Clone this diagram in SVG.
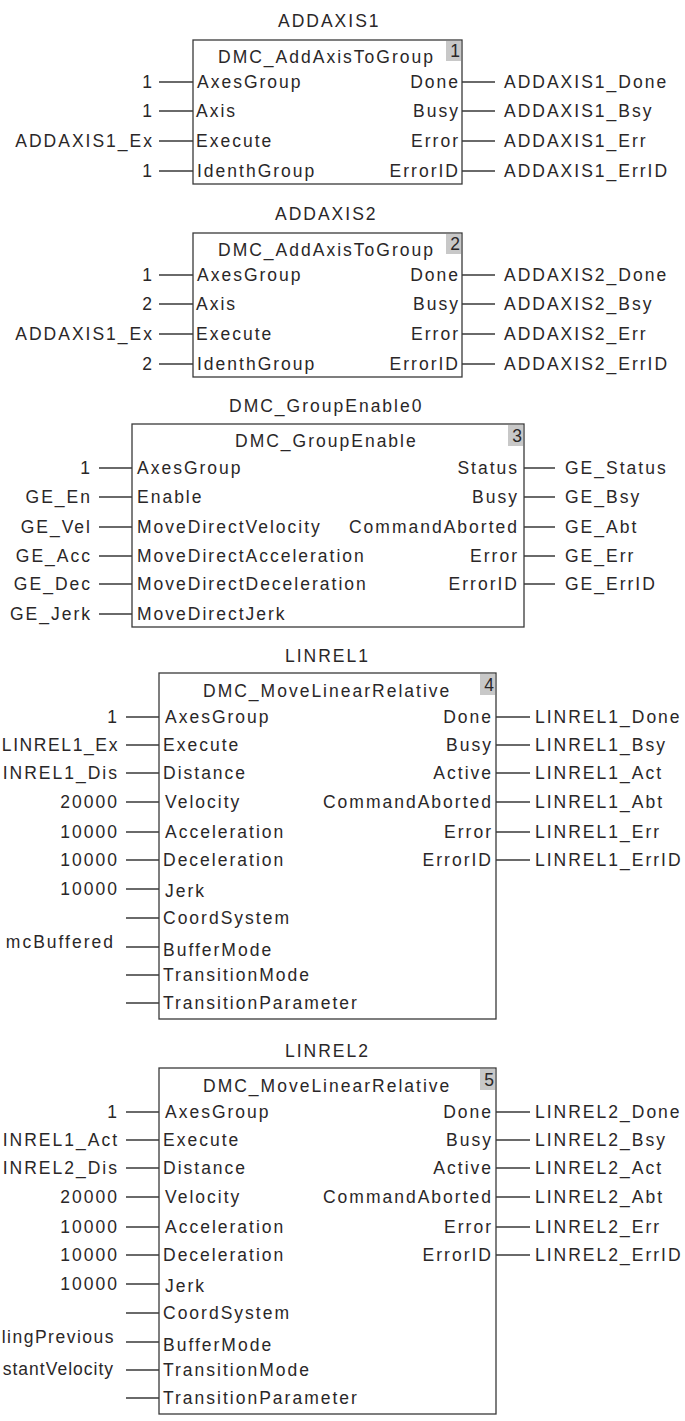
<svg xmlns="http://www.w3.org/2000/svg" width="685" height="1421" viewBox="0 0 685 1421">
<style>
text{font-family:"Liberation Sans",Arial,sans-serif;font-size:17.5px;fill:#2a2728;letter-spacing:2px}
.e{text-anchor:end}
.box{fill:#fff;stroke:#3a3a3a;stroke-width:1.3}
.num{fill:#c8c8c8;stroke:none}
.ln{stroke:#3a3a3a;stroke-width:1.3;fill:none}
</style>
<rect width="685" height="1421" fill="#fff"/>
<g id="connectors">
<path class="ln" d="M159 82H193M159 111H193M159 141H193M159 171H193M462 82H495M462 111H495M462 141H495M462 171H495"/>
<path class="ln" d="M159 275H193M159 304H193M159 334H193M159 364H193M462 275H495M462 304H495M462 334H495M462 364H495"/>
<path class="ln" d="M99 468H132M99 497H132M99 527H132M99 556H132M99 584H132M99 614H132M524 468H555M524 497H555M524 527H555M524 556H555M524 584H555"/>
<path class="ln" d="M126 717H159M126 745H159M126 773H159M126 802H159M126 832H159M126 860H159M126 889H159M126 918H159M126 947H159M126 975H159M126 1003H159M496 717H530M496 745H530M496 773H530M496 802H530M496 832H530M496 860H530"/>
<path class="ln" d="M126 1112H159M126 1140H159M126 1168H159M126 1197H159M126 1227H159M126 1255H159M126 1284H159M126 1313H159M126 1342H159M126 1370H159M126 1398H159M496 1112H530M496 1140H530M496 1168H530M496 1197H530M496 1227H530M496 1255H530"/>
</g>
<g id="addaxis1">
<text x="278" y="27">ADDAXIS1</text>
<rect class="box" x="193" y="40" width="269" height="144"/>
<rect class="num" x="446" y="41" width="15" height="20"/>
<text class="e" x="462" y="57">1</text>
<text x="218" y="63">DMC_AddAxisToGroup</text>
<text x="197" y="88">AxesGroup</text>
<text x="196" y="117">Axis</text>
<text x="196" y="147">Execute</text>
<text x="197" y="177">IdenthGroup</text>
<text class="e" x="460" y="88">Done</text>
<text class="e" x="460" y="117">Busy</text>
<text class="e" x="460" y="147">Error</text>
<text class="e" x="460" y="177">ErrorID</text>
<text class="e" x="154" y="88">1</text>
<text class="e" x="154" y="117">1</text>
<text class="e" x="154" y="147">ADDAXIS1_Ex</text>
<text class="e" x="154" y="177">1</text>
<text x="504" y="88">ADDAXIS1_Done</text>
<text x="504" y="117">ADDAXIS1_Bsy</text>
<text x="504" y="147">ADDAXIS1_Err</text>
<text x="504" y="177">ADDAXIS1_ErrID</text>
</g>
<g id="addaxis2">
<text x="275" y="220">ADDAXIS2</text>
<rect class="box" x="193" y="233" width="269" height="144"/>
<rect class="num" x="446" y="234" width="15" height="20"/>
<text class="e" x="462" y="250">2</text>
<text x="218" y="256">DMC_AddAxisToGroup</text>
<text x="197" y="281">AxesGroup</text>
<text x="196" y="310">Axis</text>
<text x="196" y="340">Execute</text>
<text x="197" y="370">IdenthGroup</text>
<text class="e" x="460" y="281">Done</text>
<text class="e" x="460" y="310">Busy</text>
<text class="e" x="460" y="340">Error</text>
<text class="e" x="460" y="370">ErrorID</text>
<text class="e" x="154" y="281">1</text>
<text class="e" x="154" y="310">2</text>
<text class="e" x="154" y="340">ADDAXIS1_Ex</text>
<text class="e" x="154" y="370">2</text>
<text x="504" y="281">ADDAXIS2_Done</text>
<text x="504" y="310">ADDAXIS2_Bsy</text>
<text x="504" y="340">ADDAXIS2_Err</text>
<text x="504" y="370">ADDAXIS2_ErrID</text>
</g>
<g id="groupenable">
<text x="229" y="412">DMC_GroupEnable0</text>
<rect class="box" x="132" y="424" width="392" height="203"/>
<rect class="num" x="508" y="425" width="15" height="21"/>
<text class="e" x="524" y="442">3</text>
<text x="235" y="447">DMC_GroupEnable</text>
<text x="137" y="474">AxesGroup</text>
<text x="137" y="503">Enable</text>
<text x="137" y="533">MoveDirectVelocity</text>
<text x="137" y="562">MoveDirectAcceleration</text>
<text x="137" y="590">MoveDirectDeceleration</text>
<text x="137" y="620">MoveDirectJerk</text>
<text class="e" x="519" y="474">Status</text>
<text class="e" x="519" y="503">Busy</text>
<text class="e" x="519" y="533">CommandAborted</text>
<text class="e" x="519" y="562">Error</text>
<text class="e" x="519" y="590">ErrorID</text>
<text class="e" x="92" y="474">1</text>
<text class="e" x="92" y="503">GE_En</text>
<text class="e" x="92" y="533">GE_Vel</text>
<text class="e" x="92" y="562">GE_Acc</text>
<text class="e" x="92" y="590">GE_Dec</text>
<text class="e" x="92" y="620">GE_Jerk</text>
<text x="565" y="474">GE_Status</text>
<text x="565" y="503">GE_Bsy</text>
<text x="565" y="533">GE_Abt</text>
<text x="565" y="562">GE_Err</text>
<text x="565" y="590">GE_ErrID</text>
</g>
<g id="linrel1">
<text x="285" y="662">LINREL1</text>
<rect class="box" x="159" y="673" width="337" height="346"/>
<rect class="num" x="480" y="674" width="15" height="21"/>
<text class="e" x="496" y="691">4</text>
<text x="203" y="697">DMC_MoveLinearRelative</text>
<text x="165" y="723">AxesGroup</text>
<text x="163" y="751">Execute</text>
<text x="163" y="779">Distance</text>
<text x="165" y="808">Velocity</text>
<text x="165" y="838">Acceleration</text>
<text x="163" y="866">Deceleration</text>
<text x="165" y="897">Jerk</text>
<text x="163" y="924">CoordSystem</text>
<text x="163" y="956">BufferMode</text>
<text x="163" y="981">TransitionMode</text>
<text x="163" y="1009">TransitionParameter</text>
<text class="e" x="493" y="723">Done</text>
<text class="e" x="493" y="751">Busy</text>
<text class="e" x="493" y="779">Active</text>
<text class="e" x="493" y="808">CommandAborted</text>
<text class="e" x="493" y="838">Error</text>
<text class="e" x="493" y="866">ErrorID</text>
<text class="e" x="119" y="723">1</text>
<text class="e" x="119" y="751" style="letter-spacing:1.6px">LINREL1_Ex</text>
<text class="e" x="119" y="779">INREL1_Dis</text>
<text class="e" x="119" y="808">20000</text>
<text class="e" x="119" y="838">10000</text>
<text class="e" x="119" y="866">10000</text>
<text class="e" x="119" y="895">10000</text>
<text class="e" x="115" y="948">mcBuffered</text>
<text x="535" y="723">LINREL1_Done</text>
<text x="535" y="751">LINREL1_Bsy</text>
<text x="535" y="779">LINREL1_Act</text>
<text x="535" y="808">LINREL1_Abt</text>
<text x="535" y="838">LINREL1_Err</text>
<text x="535" y="866">LINREL1_ErrID</text>
</g>
<g id="linrel2">
<text x="285" y="1057">LINREL2</text>
<rect class="box" x="159" y="1068" width="337" height="346"/>
<rect class="num" x="480" y="1069" width="15" height="21"/>
<text class="e" x="496" y="1086">5</text>
<text x="203" y="1092">DMC_MoveLinearRelative</text>
<text x="165" y="1118">AxesGroup</text>
<text x="163" y="1146">Execute</text>
<text x="163" y="1174">Distance</text>
<text x="165" y="1203">Velocity</text>
<text x="165" y="1233">Acceleration</text>
<text x="163" y="1261">Deceleration</text>
<text x="165" y="1292">Jerk</text>
<text x="163" y="1319">CoordSystem</text>
<text x="163" y="1351">BufferMode</text>
<text x="163" y="1376">TransitionMode</text>
<text x="163" y="1404">TransitionParameter</text>
<text class="e" x="493" y="1118">Done</text>
<text class="e" x="493" y="1146">Busy</text>
<text class="e" x="493" y="1174">Active</text>
<text class="e" x="493" y="1203">CommandAborted</text>
<text class="e" x="493" y="1233">Error</text>
<text class="e" x="493" y="1261">ErrorID</text>
<text class="e" x="119" y="1118">1</text>
<text class="e" x="119" y="1146">INREL1_Act</text>
<text class="e" x="119" y="1174">INREL2_Dis</text>
<text class="e" x="119" y="1203">20000</text>
<text class="e" x="119" y="1233">10000</text>
<text class="e" x="119" y="1261">10000</text>
<text class="e" x="119" y="1290">10000</text>
<text class="e" x="115" y="1343" style="letter-spacing:1.5px">lingPrevious</text>
<text class="e" x="114" y="1375" style="letter-spacing:1px">stantVelocity</text>
<text x="535" y="1118">LINREL2_Done</text>
<text x="535" y="1146">LINREL2_Bsy</text>
<text x="535" y="1174">LINREL2_Act</text>
<text x="535" y="1203">LINREL2_Abt</text>
<text x="535" y="1233">LINREL2_Err</text>
<text x="535" y="1261">LINREL2_ErrID</text>
</g>
</svg>
